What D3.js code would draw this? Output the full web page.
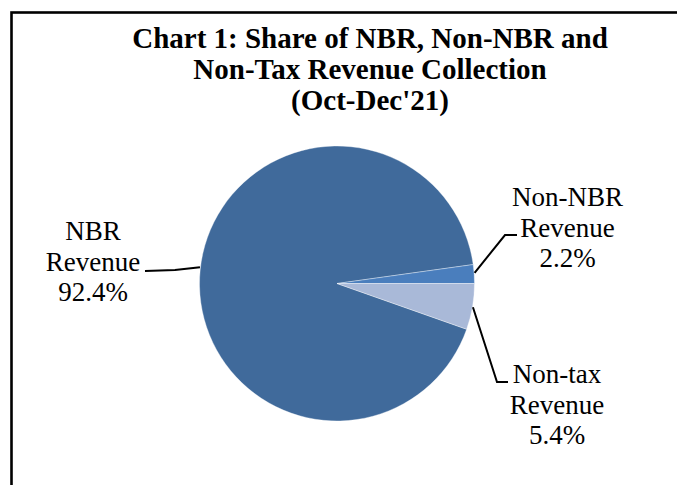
<!DOCTYPE html>
<html>
<head>
<meta charset="utf-8">
<script src="https://cdn.jsdelivr.net/npm/d3@7"></script>
<style>
  html, body { margin: 0; padding: 0; background: #fff; }
  svg { display: block; }
</style>
</head>
<body>
<svg id="chart" width="677" height="485"></svg>
<script>
const titleLines = ["Chart 1: Share of NBR, Non-NBR and", "Non-Tax Revenue Collection", "(Oct-Dec'21)"];
const categories = ["NBR Revenue", "Non-NBR Revenue", "Non-tax Revenue"];
const labelLines = [["NBR", "Revenue"], ["Non-NBR", "Revenue"], ["Non-tax", "Revenue"]];
const values = [92.4, 2.2, 5.4];
const colors = ["#406A9B", "#4A7EBD", "#A9B9D8"];

const FONT = "'Liberation Serif', Tinos, 'Times New Roman', Times, serif";
const svg = d3.select("#chart");
const W = 677, H = 485;

// frame
svg.append("rect").attr("x", 11.5).attr("y", 12.5).attr("width", W + 10).attr("height", H + 10)
  .attr("fill", "none").attr("stroke", "#000").attr("stroke-width", 2.6);

// title
const title = svg.append("text").attr("text-anchor", "middle").attr("font-family", FONT)
  .attr("font-weight", "bold").attr("font-size", 29).attr("fill", "#000");
titleLines.forEach((t, i) => {
  title.append("tspan").attr("x", 370).attr("y", 48 + i * 31).text(t);
});

// pie
const cx = 337, cy = 283.5, r = 137.5;
const data = categories.map((c, i) => ({ cat: c, value: values[i], color: colors[i], lines: labelLines[i] }));
const total = d3.sum(values);
// Non-NBR slice ends at 3 o'clock
const start = Math.PI / 2 - 2 * Math.PI * (values[0] + values[1]) / total;
const pie = d3.pie().sort(null).value(d => d.value).startAngle(start).endAngle(start + 2 * Math.PI);
const arcs = pie(data);
const arc = d3.arc().innerRadius(0).outerRadius(r);

const g = svg.append("g").attr("transform", `translate(${cx},${cy})`);
g.selectAll("path").data(arcs).enter().append("path")
  .attr("d", arc).attr("fill", d => d.data.color)
  .attr("stroke", "#fff").attr("stroke-width", 0.6).attr("stroke-opacity", 0.6);

// labels and leader lines
const labelPos = [
  { x: 93, y: 240, anchorFrac: 0.503, pts: [[145, 271], [175, 270]] },
  { x: 567.5, y: 206, anchorFrac: 0.44, pts: [[505, 235], [517, 235]] },
  { x: 557, y: 383, anchorFrac: 0.51, pts: [[497, 382], [508, 382]] }
];
const fmt = d3.format(".1f");
arcs.forEach((a, i) => {
  const lp = labelPos[i];
  const ang = a.startAngle + (a.endAngle - a.startAngle) * lp.anchorFrac;
  const ex = cx + Math.sin(ang) * (r + 0.5), ey = cy - Math.cos(ang) * (r + 0.5);
  let pts;
  if (i === 0) pts = [lp.pts[0], lp.pts[1], [ex, ey]];
  else pts = [[ex, ey], lp.pts[0], lp.pts[1]];
  svg.append("path").attr("d", d3.line()(pts)).attr("fill", "none")
    .attr("stroke", "#000").attr("stroke-width", 2);
  const t = svg.append("text").attr("text-anchor", "middle").attr("font-family", FONT)
    .attr("font-size", 27).attr("fill", "#000");
  const lines = a.data.lines.concat([fmt(a.data.value) + "%"]);
  lines.forEach((s, j) => t.append("tspan").attr("x", lp.x).attr("y", lp.y + j * 30.5).text(s));
});
</script>
</body>
</html>
